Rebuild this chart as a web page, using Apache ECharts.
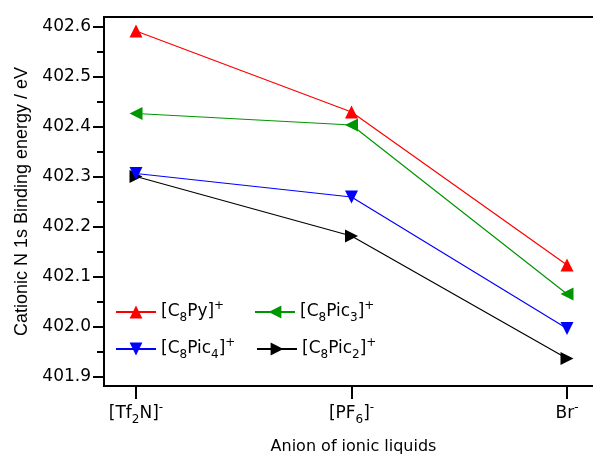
<!DOCTYPE html>
<html>
<head>
<meta charset="utf-8">
<script src="https://cdn.jsdelivr.net/npm/echarts@6/dist/echarts.min.js"></script>
<style>
  html, body { margin: 0; padding: 0; background: #fff; }
  #chart { width: 593px; height: 456px; }
</style>
</head>
<body>
<div id="chart"></div>
<script>
// ---- data ----
var categories = ['[Tf{sub|2}N]{sup|-}', '[PF{sub|6}]{sup|-}', 'Br{sup|-}'];
var seriesNames = ['[C8Py]+', '[C8Pic3]+', '[C8Pic4]+', '[C8Pic2]+'];
var seriesLabels = ['[C{sub|8}Py]{sup|+}', '[C{sub|8}Pic{sub|3}]{sup|+}', '[C{sub|8}Pic{sub|4}]{sup|+}', '[C{sub|8}Pic{sub|2}]{sup|+}'];
var C8Py   = [402.592, 402.430, 402.124];
var C8Pic3 = [402.427, 402.404, 402.066];
var C8Pic4 = [402.307, 402.260, 401.997];
var C8Pic2 = [402.301, 402.182, 401.937];
var yTicks = [401.9, 402.0, 402.1, 402.2, 402.3, 402.4, 402.5, 402.6];
var yMinorTicks = [401.95, 402.05, 402.15, 402.25, 402.35, 402.45, 402.55];

var values = [C8Py, C8Pic3, C8Pic4, C8Pic2];
var colors = ['#ff0000', '#009600', '#0000ff', '#000000'];
var rotations = [0, 90, 180, -90];

var hFont = 'DejaVu Sans';
var richStyle = {
  sub: { fontSize: 12, lineHeight: 12, verticalAlign: 'bottom', fontFamily: hFont, color: '#000' },
  sup: { fontSize: 12, lineHeight: 7, verticalAlign: 'top', fontFamily: hFont, color: '#000' }
};

var chart = echarts.init(document.getElementById('chart'));

var series = values.map(function (vals, i) {
  return {
    name: seriesNames[i],
    type: 'line',
    data: vals.map(function (v, j) { return [j, v]; }),
    symbol: 'triangle',
    symbolSize: 13,
    symbolRotate: rotations[i],
    showSymbol: true,
    lineStyle: { color: colors[i], width: 1.2 },
    itemStyle: { color: colors[i] },
    z: 10 - i,
    animation: false
  };
});

var legendPos = [[115, 300], [254, 300], [115, 337], [256, 337]];
var legends = seriesNames.map(function (n, i) {
  return {
    data: [n],
    left: legendPos[i][0],
    top: legendPos[i][1],
    padding: 0,
    itemWidth: 40,
    itemHeight: 16,
    itemGap: 8,
    selectedMode: false,
    formatter: function () { return seriesLabels[i]; },
    textStyle: {
      fontFamily: hFont, fontSize: 17, color: '#000', lineHeight: 24,
      rich: richStyle
    }
  };
});

chart.setOption({
  backgroundColor: '#fff',
  animation: false,
  grid: {
    left: 104, top: 17, right: -10, bottom: 70,
    outerBoundsMode: 'none',
    containLabel: false,
    show: true, borderColor: '#000', borderWidth: 2
  },
  legend: legends,
  xAxis: {
    type: 'value',
    min: -0.1485,
    max: 2.167,
    splitLine: { show: false },
    axisLine: { show: true, onZero: false, lineStyle: { color: '#000', width: 2 } },
    axisTick: { show: true, inside: false, length: 13, customValues: [0, 1, 2], lineStyle: { color: '#000', width: 2 } },
    axisLabel: {
      customValues: [0, 1, 2],
      margin: 16,
      formatter: function (v) { return categories[Math.round(v)]; },
      fontFamily: hFont, fontSize: 17, color: '#000', lineHeight: 24,
      rich: richStyle
    },
    name: 'Anion of ionic liquids',
    nameLocation: 'middle',
    nameGap: 53,
    nameTextStyle: { fontFamily: hFont, fontSize: 16, color: '#000' }
  },
  yAxis: [{
    type: 'value',
    min: 401.882,
    max: 402.62,
    splitLine: { show: false },
    axisLine: { show: true, onZero: false, lineStyle: { color: '#000', width: 2 } },
    axisTick: { show: true, inside: false, length: 11, customValues: yTicks, lineStyle: { color: '#000', width: 2 } },
    axisLabel: {
      customValues: yTicks,
      margin: 13,
      formatter: function (v) { return v.toFixed(1); },
      fontFamily: hFont, fontSize: 17, color: '#000'
    },
    name: 'Cationic N 1s Binding energy / eV',
    nameLocation: 'middle',
    nameGap: 72,
    nameRotate: 90,
    nameTextStyle: { fontFamily: 'Liberation Sans', fontSize: 18, color: '#000' }
  }, {
    type: 'value',
    position: 'left',
    min: 401.882,
    max: 402.62,
    splitLine: { show: false },
    axisLine: { show: false, onZero: false },
    axisTick: { show: true, inside: false, length: 7, customValues: yMinorTicks, lineStyle: { color: '#000', width: 2 } },
    axisLabel: { show: false }
  }],
  series: series
});
</script>
</body>
</html>
